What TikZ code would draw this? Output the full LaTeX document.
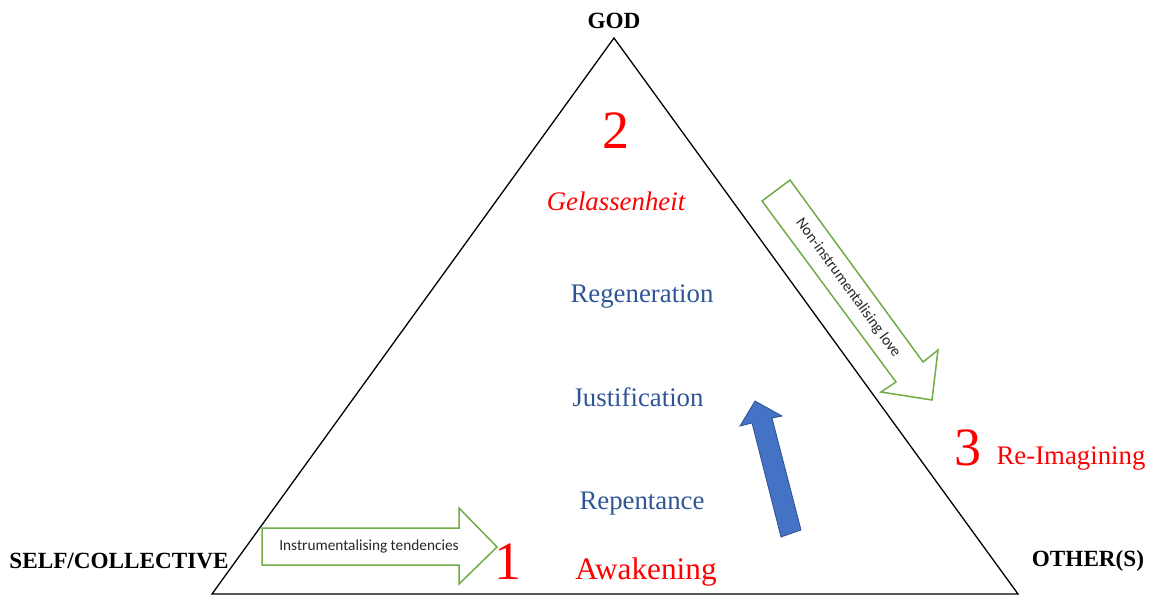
\documentclass[tikz,border=0pt]{standalone}
\usepackage{fontspec}
\setmainfont{Liberation Serif}
\newfontfamily\calibri{Carlito}
\definecolor{stageblue}{HTML}{2F5597}
\definecolor{arrowgreen}{HTML}{70AD47}
\definecolor{upfill}{HTML}{4472C4}
\definecolor{updraw}{HTML}{2F528F}
\begin{document}
\begin{tikzpicture}[x=1pt,y=-1pt,
  corner/.style={font=\bfseries\fontsize{23.2}{26}\selectfont},
  stage/.style={text=stageblue,font=\fontsize{26.8}{30}\selectfont},
  num/.style={text=red,font=\fontsize{54}{60}\selectfont},
  hollow/.style={draw=arrowgreen,line width=1.5pt,fill=white,line join=miter},
  tag/.style={font=\calibri\fontsize{15.3}{18}\selectfont,text=black!85}]

\useasboundingbox (0,0) rectangle (1152,597);

\coordinate (top) at (614,38);
\coordinate (left) at (212,594);
\coordinate (right) at (1018,594);

\draw[line width=1.3pt, line join=miter] (left) -- (top) -- (right) -- cycle;

% corners
\node[corner] (god) at (614,21) {GOD};
\node[corner] (self) at (119,561) {SELF/COLLECTIVE};
\node[corner] (other) at (1088,561) {OTHER(S)};

% green arrows
\draw[hollow] (262,528) -- (459,528) -- (459,508) -- (497,547) -- (459,584)
  -- (459,565) -- (262,565) -- cycle;
\node[tag] (instr) at (369,546) {Instrumentalising tendencies};

\draw[hollow] (790,180) -- (923,362) -- (938,350) -- (932,400) -- (881,392)
  -- (896,382) -- (762,201) -- cycle;
\node[tag, rotate=-54] (love) at (848,288) {Non-instrumentalising love};

% blue arrow
\draw[fill=upfill, draw=updraw, line width=0.8pt] (755,401) -- (782,416) -- (772,418)
  -- (801,530) -- (781,537) -- (752,423) -- (740,426) -- cycle;

% stages
\node[num] (two) at (616,131) {2};
\node[text=red, font=\itshape\fontsize{26.8}{30}\selectfont] (gel) at (616,201) {Gelassenheit};
\node[stage] (regen) at (642,297) {Regeneration};
\node[stage] (just) at (638,397) {Justification};
\node[stage] (rep) at (642,504) {Repentance};
\node[text=red, font=\fontsize{31.3}{34}\selectfont] (awake) at (646,572) {Awakening};
\node[num] (one) at (508,562) {1};
\node[num] (three) at (968,448) {3};
\node[text=red, font=\fontsize{26.8}{30}\selectfont] (reimag) at (1071,459) {Re-Imagining};

\end{tikzpicture}
\end{document}
